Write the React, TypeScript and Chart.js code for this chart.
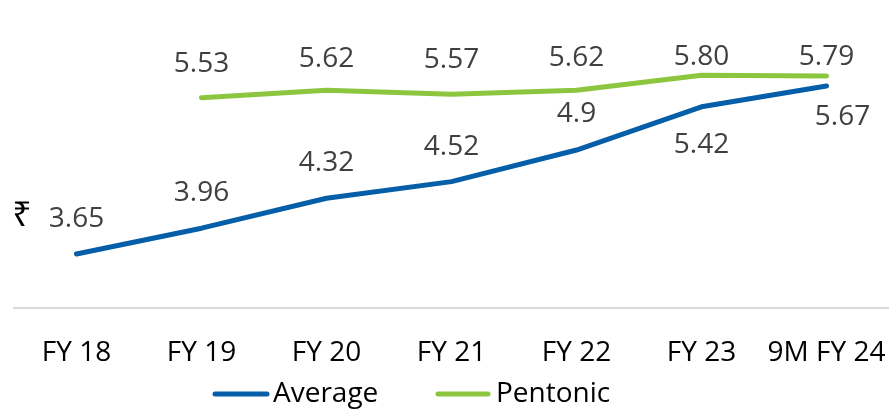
import React, { useEffect, useRef } from "react";
import { Chart, registerables } from "chart.js";

Chart.register(...registerables);

const categories = ["FY 18", "FY 19", "FY 20", "FY 21", "FY 22", "FY 23", "9M FY 24"];
const averageValues = [3.65, 3.96, 4.32, 4.52, 4.9, 5.42, 5.67];
const pentonicValues: (number | null)[] = [null, 5.53, 5.62, 5.57, 5.62, 5.8, 5.79];
const averageLabels = ["3.65", "3.96", "4.32", "4.52", "4.9", "5.42", "5.67"];
const pentonicLabels = ["", "5.53", "5.62", "5.57", "5.62", "5.80", "5.79"];
const seriesNames = ["Average", "Pentonic"];
const currencySymbol = "₹";

const BLUE = "#055ea8";
const GREEN = "#8cc63f";
const LABEL_FONT = "28px 'Open Sans'";

// label offsets (styling): [dx, dy of baseline relative to point]
const averageOffsets: [number, number][] = [
  [0, -27], [0, -27], [0, -27], [0, -27], [0, -28], [0, 46], [16, 39],
];
const pentonicOffsets: [number, number][] = [
  [0, -26], [0, -26], [0, -23], [0, -26], [0, -24], [0, -10], [0, -11],
];

const overlayPlugin = {
  id: "overlay",
  afterDatasetsDraw(chart: any) {
    const ctx = chart.ctx;
    ctx.save();
    ctx.font = LABEL_FONT;
    ctx.fillStyle = "#404040";
    ctx.textAlign = "center";
    ctx.textBaseline = "alphabetic";
    const metaA = chart.getDatasetMeta(0);
    metaA.data.forEach((pt: any, i: number) => {
      const [dx, dy] = averageOffsets[i];
      ctx.fillText(averageLabels[i], pt.x + dx, pt.y + dy);
    });
    const metaP = chart.getDatasetMeta(1);
    metaP.data.forEach((pt: any, i: number) => {
      if (pentonicValues[i] == null || !pentonicLabels[i]) return;
      const [dx, dy] = pentonicOffsets[i];
      ctx.fillText(pentonicLabels[i], pt.x + dx, pt.y + dy);
    });

    // currency symbol
    ctx.fillStyle = "#000";
    ctx.font = "34px 'Noto Sans'";
    ctx.textAlign = "center";
    ctx.fillText(currencySymbol, 22, 226);

    // legend
    const legendItems = [
      { x: 213, len: 56, gap: 4, color: BLUE, text: seriesNames[0] },
      { x: 436, len: 54, gap: 6, color: GREEN, text: seriesNames[1] },
    ];
    ctx.font = LABEL_FONT;
    ctx.textAlign = "left";
    legendItems.forEach((it) => {
      ctx.strokeStyle = it.color;
      ctx.lineWidth = 5;
      ctx.lineCap = "round";
      ctx.beginPath();
      ctx.moveTo(it.x + 2, 394);
      ctx.lineTo(it.x + it.len - 2, 394);
      ctx.stroke();
      ctx.fillStyle = "#000";
      ctx.fillText(it.text, it.x + it.len + it.gap, 402);
    });
    ctx.restore();
  },
};

export default function App() {
  const canvasRef = useRef<HTMLCanvasElement | null>(null);

  useEffect(() => {
    document.body.style.margin = "0";
    const canvas = canvasRef.current;
    if (!canvas) return;
    const chart = new Chart(canvas, {
      type: "line",
      data: {
        labels: categories,
        datasets: [
          {
            label: seriesNames[0],
            data: averageValues,
            borderColor: BLUE,
            backgroundColor: BLUE,
            borderWidth: 5,
            pointRadius: 0,
            borderCapStyle: "round",
            borderJoinStyle: "round",
            tension: 0,
          },
          {
            label: seriesNames[1],
            data: pentonicValues,
            borderColor: GREEN,
            backgroundColor: GREEN,
            borderWidth: 5,
            pointRadius: 0,
            borderCapStyle: "round",
            borderJoinStyle: "round",
            tension: 0,
          },
        ],
      },
      options: {
        responsive: false,
        animation: false,
        layout: { padding: { left: 14, right: 0, top: 17, bottom: 43 } },
        plugins: {
          legend: { display: false },
          tooltip: { enabled: false },
        },
        scales: {
          x: {
            offset: true,
            grid: { display: false, drawTicks: false },
            border: { display: true, color: "#d9d9d9", width: 2 },
            ticks: {
              color: "#000",
              font: { family: "'Open Sans'", size: 28 },
              padding: 28,
              maxRotation: 0,
              autoSkip: false,
            },
            afterFit(scale: any) {
              scale.height = 62;
              scale.paddingLeft = 0;
              scale.paddingRight = 0;
            },
          },
          y: {
            display: false,
            min: 3,
            max: 6.5,
          },
        },
      },
      plugins: [overlayPlugin],
    });
    return () => chart.destroy();
  }, []);

  return (
    <div style={{ width: 889, height: 413, position: "relative" }}>
      <canvas ref={canvasRef} width={889} height={413} style={{ display: "block" }} />
    </div>
  );
}
